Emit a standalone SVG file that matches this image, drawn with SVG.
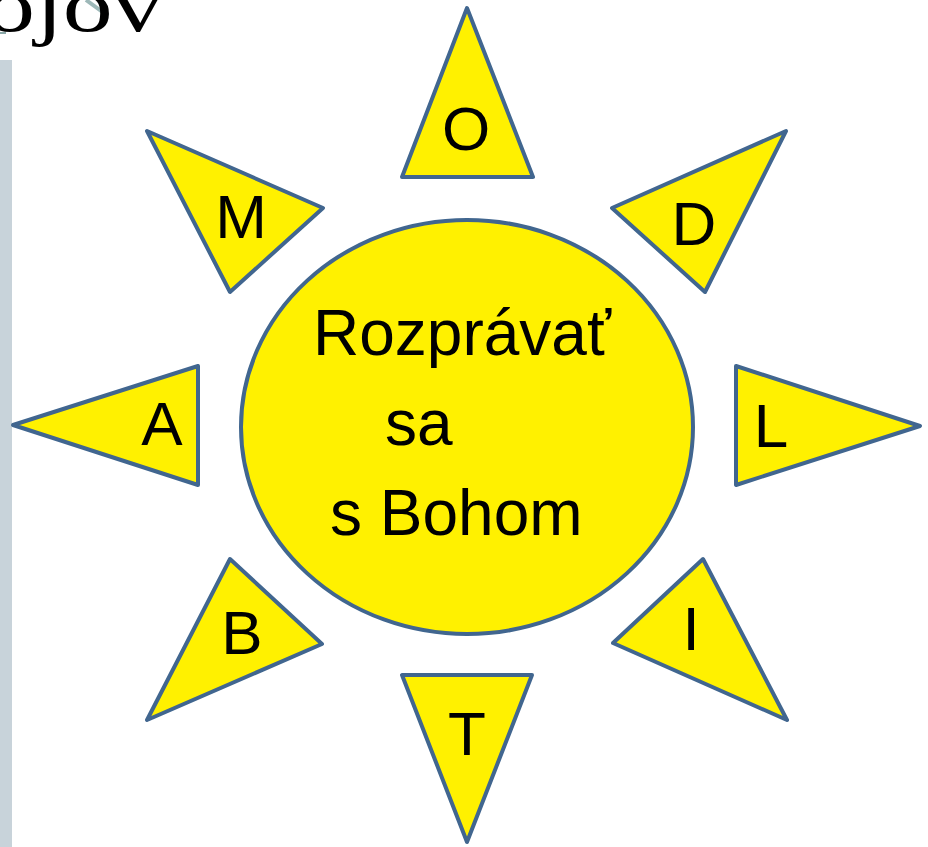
<svg xmlns="http://www.w3.org/2000/svg" width="928" height="847" viewBox="0 0 928 847">
<style>
.ray{fill:#FFF100;stroke:#41668F;stroke-width:4;stroke-linejoin:round}
.lt{font-family:"Liberation Sans",Arial,sans-serif;font-size:62px;fill:#000;text-anchor:middle}
.ct{font-family:"Liberation Sans",Arial,sans-serif;font-size:64px;fill:#000}
</style>
<rect x="0" y="0" width="928" height="847" fill="#fff"/>
<rect x="0" y="60" width="12" height="787" fill="#C8D3DA"/>
<line x1="0" y1="33" x2="6" y2="33" stroke="#8AA8A8" stroke-width="2"/>
<line x1="86" y1="0" x2="108" y2="16" stroke="#9DB8B8" stroke-width="4"/>
<text transform="translate(-15,31) scale(1,0.76)" x="0" y="0" font-family="'Liberation Serif',serif" font-size="100" fill="#000">ojov</text>
<g id="sun">
<ellipse class="ray" cx="467" cy="427" rx="226" ry="207"/>
<text class="ct" x="313" y="355">Rozprávať</text>
<text class="ct" x="385" y="445">sa</text>
<text class="ct" x="330" y="535">s Bohom</text>
</g>
<g id="ray-O"><polygon class="ray" points="467,8 533,177 402,177"/><text class="lt" x="466" y="150">O</text></g>
<g id="ray-D"><polygon class="ray" points="786,131 705,292 612,208"/><text class="lt" x="694" y="245">D</text></g>
<g id="ray-L"><polygon class="ray" points="736,366 920,426 736,485"/><text class="lt" x="771" y="447">L</text></g>
<g id="ray-I"><polygon class="ray" points="703,559 787,720 613,643"/><text class="lt" x="691" y="650">I</text></g>
<g id="ray-T"><polygon class="ray" points="402,675 532,675 467,842"/><text class="lt" x="467" y="755">T</text></g>
<g id="ray-B"><polygon class="ray" points="230,559 322,644 147,720"/><text class="lt" x="242" y="654">B</text></g>
<g id="ray-A"><polygon class="ray" points="13,425 198,366 198,485"/><text class="lt" x="162" y="445">A</text></g>
<g id="ray-M"><polygon class="ray" points="147,131 323,208 230,292"/><text class="lt" x="241" y="238">M</text></g>
<g id="connectors"></g>
</svg>
